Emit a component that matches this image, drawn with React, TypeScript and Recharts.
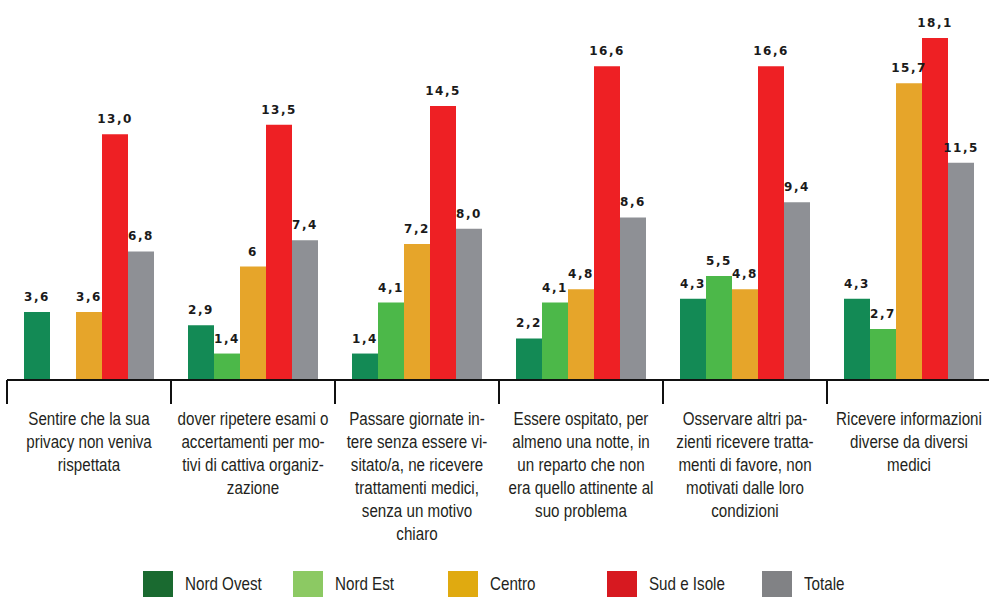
import React from 'react';
import { BarChart, Bar, XAxis, YAxis, LabelList } from 'recharts';

const categories = [
  'Sentire che la sua\nprivacy non veniva\nrispettata',
  'dover ripetere esami o\naccertamenti per mo-\ntivi di cattiva organiz-\nzazione',
  'Passare giornate in-\ntere senza essere vi-\nsitato/a, ne ricevere\ntrattamenti medici,\nsenza un motivo\nchiaro',
  'Essere ospitato, per\nalmeno una notte, in\nun reparto che non\nera quello attinente al\nsuo problema',
  'Osservare altri pa-\nzienti ricevere tratta-\nmenti di favore, non\nmotivati dalle loro\ncondizioni',
  'Ricevere informazioni\ndiverse da diversi\nmedici',
];

// values as printed on the chart ('' = no bar)
const nordOvest = ['3,6', '2,9', '1,4', '2,2', '4,3', '4,3'];
const nordEst = ['', '1,4', '4,1', '4,1', '5,5', '2,7'];
const centro = ['3,6', '6', '7,2', '4,8', '4,8', '15,7'];
const sudIsole = ['13,0', '13,5', '14,5', '16,6', '16,6', '18,1'];
const totale = ['6,8', '7,4', '8,0', '8,6', '9,4', '11,5'];

const series = [
  { key: 'nordOvest', name: 'Nord Ovest', values: nordOvest, fill: '#138a55', legend: '#1a6a30' },
  { key: 'nordEst', name: 'Nord Est', values: nordEst, fill: '#4cb849', legend: '#8cc963' },
  { key: 'centro', name: 'Centro', values: centro, fill: '#e6a52a', legend: '#e0aa10' },
  { key: 'sudIsole', name: 'Sud e Isole', values: sudIsole, fill: '#ee2024', legend: '#d71920' },
  { key: 'totale', name: 'Totale', values: totale, fill: '#8e9095', legend: '#818285' },
];

const toNum = (s: string) => (s === '' ? null : parseFloat(s.replace(',', '.')));

const data = categories.map((name, i) => {
  const row: any = { name };
  series.forEach((s) => {
    row[s.key] = toNum(s.values[i]);
    row[s.key + 'Label'] = s.values[i];
  });
  return row;
});

const CHART_W = 1000;
const MARGIN = { top: 2, right: 9, left: 7, bottom: 0 };
const BAND = (CHART_W - MARGIN.left - MARGIN.right) / categories.length;
// no narrow font installed: squeeze Liberation Sans like Arial Narrow
const FONT = '"Liberation Sans", Arial, sans-serif';
const NARROW = 0.82;

const CategoryTick = ({ x, y, payload }: any) => {
  const lines = String(payload.value).split('\n');
  const left = x - BAND / 2;
  return (
    <g>
      <line x1={left} x2={left} y1={y} y2={y + 24} stroke="#111" strokeWidth={2} />
      <g transform={`translate(${x},${y + 45}) scale(${NARROW},1)`}>
        <text x={0} y={0} textAnchor="middle" fontFamily={FONT} fontSize={18.5} fill="#231f20">
          {lines.map((l, i) => (
            <tspan key={i} x={0} dy={i === 0 ? 0 : 23}>
              {l}
            </tspan>
          ))}
        </text>
      </g>
    </g>
  );
};

const legendWidths = [150, 155, 159, 155, 120];

export default function App() {
  return (
    <div style={{ position: 'fixed', left: 0, top: 0, width: 989, height: 599, overflow: 'hidden', background: '#fff' }}>
      <BarChart width={CHART_W} height={599} data={data} margin={MARGIN} barGap={0}>
        <XAxis
          dataKey="name"
          interval={0}
          height={219}
          tickSize={0}
          tickMargin={0}
          tickLine={false}
          axisLine={{ stroke: '#111', strokeWidth: 2 }}
          tick={<CategoryTick />}
        />
        <YAxis hide domain={[0, 20]} />
        {series.map((s) => (
          <Bar key={s.key} dataKey={s.key} name={s.name} fill={s.fill} barSize={26} isAnimationActive={false}>
            <LabelList
              dataKey={s.key + 'Label'}
              position="top"
              offset={11}
              style={{ fontFamily: '"DejaVu Sans", sans-serif', fontWeight: 'bold', fontSize: 12, letterSpacing: 1.5, fill: '#1a1a1a' }}
            />
          </Bar>
        ))}
      </BarChart>
      <div style={{ position: 'absolute', left: 143, top: 571, display: 'flex', fontFamily: FONT, fontSize: 18.5, color: '#231f20' }}>
        {series.map((s, i) => (
          <div key={s.key} style={{ width: legendWidths[i], display: 'flex', alignItems: 'center' }}>
            <div style={{ width: 30, height: 26, background: s.legend, flexShrink: 0 }} />
            <span style={{ marginLeft: 12, display: 'inline-block', transform: `scaleX(${NARROW})`, transformOrigin: 'left center', whiteSpace: 'nowrap' }}>
              {s.name}
            </span>
          </div>
        ))}
      </div>
    </div>
  );
}
